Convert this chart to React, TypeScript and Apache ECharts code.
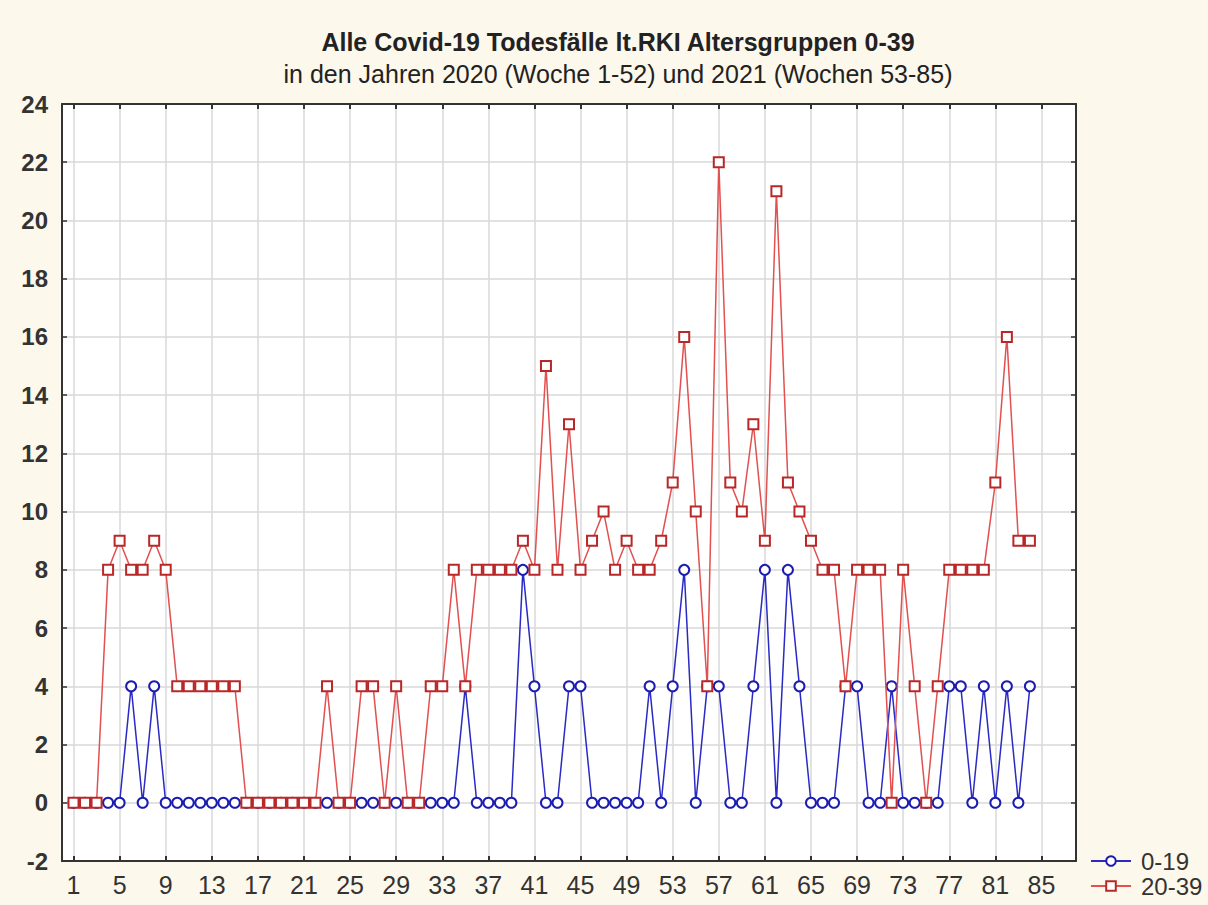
import React, { useEffect, useRef } from "react";
import * as echarts from "echarts";

const weeks: number[] = Array.from({ length: 84 }, (_, i) => i + 1);

const age0to19: number[] = [
  0, 0, 0, 0, 0, 4, 0, 4, 0, 0,
  0, 0, 0, 0, 0, 0, 0, 0, 0, 0,
  0, 0, 0, 0, 0, 0, 0, 0, 0, 0,
  0, 0, 0, 0, 4, 0, 0, 0, 0, 8,
  4, 0, 0, 4, 4, 0, 0, 0, 0, 0,
  4, 0, 4, 8, 0, 4, 4, 0, 0, 4,
  8, 0, 8, 4, 0, 0, 0, 4, 4, 0,
  0, 4, 0, 0, 0, 0, 4, 4, 0, 4,
  0, 4, 0, 4,
];

const age20to39: number[] = [
  0, 0, 0, 8, 9, 8, 8, 9, 8, 4,
  4, 4, 4, 4, 4, 0, 0, 0, 0, 0,
  0, 0, 4, 0, 0, 4, 4, 0, 4, 0,
  0, 4, 4, 8, 4, 8, 8, 8, 8, 9,
  8, 15, 8, 13, 8, 9, 10, 8, 9, 8,
  8, 9, 11, 16, 10, 4, 22, 11, 10, 13,
  9, 21, 11, 10, 9, 8, 8, 4, 8, 8,
  8, 0, 8, 4, 0, 4, 8, 8, 8, 8,
  11, 16, 9, 9,
];

const xTickLabels: number[] = [1, 5, 9, 13, 17, 21, 25, 29, 33, 37, 41, 45, 49, 53, 57, 61, 65, 69, 73, 77, 81, 85];

const seriesNames = ["0-19", "20-39"];

const titleText = "Alle Covid-19 Todesfälle lt.RKI Altersgruppen 0-39";
const subtitleText = "in den Jahren 2020 (Woche 1-52) und 2021 (Wochen 53-85)";

const FONT = "'Liberation Sans', Arial, sans-serif";

export default function App() {
  const ref = useRef<HTMLDivElement>(null);

  useEffect(() => {
    if (!ref.current) return;
    const chart = echarts.init(ref.current, null, { renderer: "svg" });

    const gridColor = "#d9d9d9";
    const axisColor = "#333333";

    const legendBase = {
      orient: "vertical",
      left: 1090,
      itemWidth: 40,
      itemHeight: 12,
      itemGap: 0,
      padding: 0,
      textStyle: {
        fontFamily: FONT,
        fontSize: 24,
        lineHeight: 22,
        color: "#333",
        padding: [0, 0, 0, 5],
      },
    };

    const option: any = {
      animation: false,
      backgroundColor: "#fcf8ec",
      title: [
        {
          text: titleText,
          left: 613,
          top: 24,
          textAlign: "center",
          textStyle: { fontFamily: FONT, fontSize: 25, fontWeight: "bold", color: "#222" },
        },
        {
          text: subtitleText,
          left: 613,
          top: 56,
          textAlign: "center",
          textStyle: { fontFamily: FONT, fontSize: 25, fontWeight: "normal", color: "#222" },
        },
      ],
      grid: {
        left: 62,
        top: 104,
        width: 1014,
        height: 757,
        show: true,
        backgroundColor: "#ffffff",
        borderColor: axisColor,
        borderWidth: 0,
      },
      legend: [
        { ...legendBase, top: 849, data: [seriesNames[0]] },
        { ...legendBase, top: 874, data: [seriesNames[1]] },
      ],
      xAxis: [
        {
          type: "value",
          min: 0,
          max: 88,
          position: "bottom",
          axisLine: { show: true, onZero: false, lineStyle: { color: axisColor, width: 2 } },
          axisTick: {
            show: true,
            inside: true,
            length: 5,
            customValues: xTickLabels,
            lineStyle: { color: axisColor, width: 2 },
          },
          axisLabel: {
            customValues: xTickLabels,
            fontFamily: FONT,
            fontSize: 25,
            color: "#333",
            margin: 11,
          },
          splitLine: { show: true, lineStyle: { color: gridColor, width: 1.5 } },
        },
        {
          type: "value",
          min: 0,
          max: 88,
          position: "top",
          axisLine: { show: true, onZero: false, lineStyle: { color: axisColor, width: 2 } },
          axisTick: {
            show: true,
            inside: true,
            length: 5,
            customValues: xTickLabels,
            lineStyle: { color: axisColor, width: 2 },
          },
          axisLabel: { show: false, customValues: xTickLabels },
          splitLine: { show: false },
        },
      ],
      yAxis: [
        {
          type: "value",
          min: -2,
          max: 24,
          interval: 2,
          position: "left",
          axisLine: { show: true, onZero: false, lineStyle: { color: axisColor, width: 2 } },
          axisTick: { show: true, inside: true, length: 5, lineStyle: { color: axisColor, width: 1.5 } },
          axisLabel: {
            fontFamily: FONT,
            fontSize: 24,
            fontWeight: "bold",
            color: "#333",
            margin: 14,
          },
          splitLine: { show: true, lineStyle: { color: gridColor, width: 1.5 } },
        },
        {
          type: "value",
          min: -2,
          max: 24,
          interval: 2,
          position: "right",
          axisLine: { show: true, onZero: false, lineStyle: { color: axisColor, width: 2 } },
          axisTick: { show: true, inside: true, length: 5, lineStyle: { color: axisColor, width: 1.5 } },
          axisLabel: { show: false },
          splitLine: { show: false },
        },
      ],
      series: [
        {
          name: seriesNames[0],
          type: "line",
          xAxisIndex: 0,
          yAxisIndex: 0,
          data: weeks.map((w, i) => [w, age0to19[i]]),
          symbol: "circle",
          symbolSize: 10,
          z: 2,
          lineStyle: { color: "#2a2ac4", width: 1.5 },
          itemStyle: { color: "#ffffff", borderColor: "#1c1cb0", borderWidth: 2 },
        },
        {
          name: seriesNames[1],
          type: "line",
          xAxisIndex: 0,
          yAxisIndex: 0,
          data: weeks.map((w, i) => [w, age20to39[i]]),
          symbol: "rect",
          symbolSize: 10,
          z: 3,
          lineStyle: { color: "#e25050", width: 1.5 },
          itemStyle: { color: "#ffffff", borderColor: "#b82828", borderWidth: 2 },
        },
      ],
    };

    chart.setOption(option);
    return () => chart.dispose();
  }, []);

  return (
    <div
      ref={ref}
      style={{ position: "fixed", left: 0, top: 0, width: 1208, height: 905 }}
    />
  );
}
